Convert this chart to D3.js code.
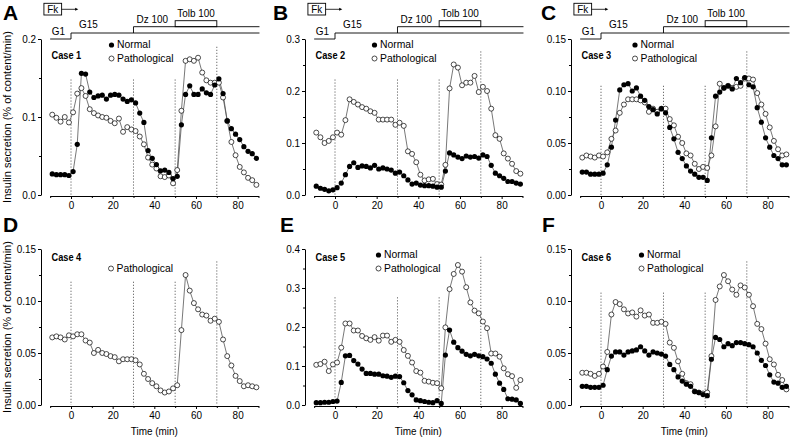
<!DOCTYPE html>
<html>
<head>
<meta charset="utf-8">
<script src="https://cdn.jsdelivr.net/npm/d3@7"></script>
<style>
  body { margin: 0; background: #fff; }
  svg { font-family: "Liberation Sans", Arial, sans-serif; }
</style>
</head>
<body>
<svg id="chart" width="791" height="440"></svg>
<script>
// sampling times (min), one point every 2 min
const times = [-9, -7, -5, -3, -1, 1, 3, 5, 7, 9, 11, 13, 15, 17, 19, 21, 23, 25, 27, 29,
  31, 33, 35, 37, 39, 41, 43, 45, 47, 49, 51, 53, 55, 57, 59, 61, 63, 65, 67, 69,
  71, 73, 75, 77, 79, 81, 83, 85, 87, 89];

const case1Normal = [0.027, 0.026, 0.026, 0.026, 0.025, 0.030, 0.065, 0.156, 0.155, 0.132,
  0.125, 0.127, 0.128, 0.123, 0.128, 0.129, 0.128, 0.123, 0.120, 0.122,
  0.118, 0.105, 0.093, 0.057, 0.047, 0.039, 0.031, 0.032, 0.029, 0.021,
  0.024, 0.090, 0.129, 0.140, 0.129, 0.129, 0.136, 0.131, 0.129, 0.141,
  0.149, 0.130, 0.095, 0.085, 0.078, 0.071, 0.062, 0.056, 0.053, 0.047];
const case1Path = [0.103, 0.099, 0.094, 0.100, 0.093, 0.106, 0.130, 0.137, 0.127, 0.110,
  0.105, 0.102, 0.100, 0.099, 0.095, 0.092, 0.098, 0.081, 0.087, 0.084,
  0.082, 0.075, 0.065, 0.048, 0.039, 0.034, 0.024, 0.023, 0.025, 0.015,
  0.032, 0.108, 0.172, 0.174, 0.172, 0.176, 0.157, 0.147, 0.144, 0.144,
  0.144, 0.125, 0.095, 0.068, 0.051, 0.036, 0.029, 0.022, 0.019, 0.013];

const case2Normal = [0.017, 0.013, 0.011, 0.008, 0.010, 0.014, 0.023, 0.039, 0.055, 0.062,
  0.053, 0.056, 0.055, 0.052, 0.057, 0.050, 0.052, 0.050, 0.048, 0.042,
  0.044, 0.037, 0.029, 0.021, 0.023, 0.019, 0.018, 0.018, 0.017, 0.015,
  0.015, 0.046, 0.081, 0.077, 0.073, 0.070, 0.075, 0.073, 0.074, 0.071,
  0.077, 0.074, 0.057, 0.042, 0.037, 0.032, 0.026, 0.026, 0.023, 0.021];
const case2Path = [0.120, 0.111, 0.100, 0.104, 0.111, 0.120, 0.116, 0.144, 0.184, 0.179,
  0.174, 0.169, 0.166, 0.161, 0.158, 0.145, 0.145, 0.145, 0.145, 0.135,
  0.139, 0.133, 0.084, 0.079, 0.063, 0.039, 0.028, 0.030, 0.031, 0.021,
  0.020, 0.058, 0.205, 0.251, 0.245, 0.211, 0.216, 0.216, 0.229, 0.198,
  0.208, 0.200, 0.166, 0.115, 0.108, 0.080, 0.070, 0.060, 0.046, 0.041];

const case3Normal = [0.022, 0.022, 0.020, 0.020, 0.020, 0.021, 0.029, 0.046, 0.072, 0.101,
  0.106, 0.107, 0.100, 0.103, 0.095, 0.091, 0.085, 0.082, 0.078, 0.083,
  0.079, 0.065, 0.054, 0.041, 0.035, 0.028, 0.023, 0.020, 0.017, 0.017,
  0.014, 0.055, 0.095, 0.099, 0.103, 0.105, 0.102, 0.112, 0.108, 0.113,
  0.106, 0.104, 0.084, 0.070, 0.055, 0.046, 0.038, 0.035, 0.029, 0.029];
const case3Path = [0.036, 0.038, 0.037, 0.036, 0.038, 0.037, 0.041, 0.054, 0.062, 0.079,
  0.087, 0.092, 0.092, 0.092, 0.091, 0.089, 0.080, 0.083, 0.080, 0.083,
  0.083, 0.073, 0.067, 0.056, 0.050, 0.040, 0.038, 0.030, 0.025, 0.027,
  0.026, 0.038, 0.066, 0.107, 0.103, 0.105, 0.103, 0.104, 0.105, 0.112,
  0.112, 0.111, 0.098, 0.087, 0.078, 0.065, 0.052, 0.044, 0.038, 0.039];

const case4Path = [0.065, 0.066, 0.065, 0.063, 0.067, 0.066, 0.068, 0.068, 0.062, 0.060,
  0.050, 0.053, 0.050, 0.049, 0.047, 0.046, 0.042, 0.044, 0.044, 0.044,
  0.043, 0.039, 0.030, 0.025, 0.021, 0.018, 0.014, 0.012, 0.013, 0.016,
  0.019, 0.072, 0.125, 0.110, 0.098, 0.092, 0.087, 0.086, 0.081, 0.083,
  0.080, 0.063, 0.047, 0.038, 0.028, 0.023, 0.018, 0.019, 0.018, 0.017];

const case5Normal = [0.006, 0.006, 0.007, 0.007, 0.009, 0.010, 0.058, 0.126, 0.127, 0.114,
  0.105, 0.092, 0.081, 0.081, 0.079, 0.079, 0.075, 0.074, 0.071, 0.074,
  0.073, 0.057, 0.037, 0.026, 0.013, 0.011, 0.009, 0.007, 0.006, 0.011,
  0.004, 0.128, 0.192, 0.161, 0.147, 0.138, 0.130, 0.126, 0.130, 0.126,
  0.124, 0.118, 0.107, 0.079, 0.056, 0.040, 0.016, 0.015, 0.013, 0.004];
const case5Path = [0.103, 0.105, 0.111, 0.087, 0.104, 0.109, 0.147, 0.209, 0.209, 0.191,
  0.191, 0.177, 0.171, 0.167, 0.174, 0.165, 0.178, 0.178, 0.162, 0.167,
  0.162, 0.141, 0.126, 0.109, 0.087, 0.083, 0.062, 0.060, 0.057, 0.056,
  0.043, 0.199, 0.297, 0.336, 0.359, 0.342, 0.302, 0.263, 0.242, 0.235,
  0.214, 0.197, 0.132, 0.132, 0.124, 0.094, 0.079, 0.074, 0.044, 0.064];

const case6Normal = [0.018, 0.018, 0.017, 0.017, 0.017, 0.019, 0.034, 0.047, 0.051, 0.051,
  0.048, 0.051, 0.052, 0.053, 0.056, 0.052, 0.048, 0.051, 0.050, 0.049,
  0.047, 0.039, 0.034, 0.027, 0.023, 0.020, 0.018, 0.013, 0.012, 0.010,
  0.009, 0.044, 0.065, 0.063, 0.056, 0.059, 0.057, 0.060, 0.060, 0.059,
  0.058, 0.056, 0.050, 0.043, 0.038, 0.029, 0.022, 0.021, 0.017, 0.018];
const case6Path = [0.031, 0.031, 0.030, 0.028, 0.030, 0.037, 0.051, 0.087, 0.099, 0.097,
  0.092, 0.088, 0.089, 0.085, 0.091, 0.086, 0.087, 0.079, 0.079, 0.080,
  0.078, 0.060, 0.055, 0.042, 0.030, 0.021, 0.020, 0.013, 0.012, 0.011,
  0.012, 0.047, 0.101, 0.114, 0.125, 0.119, 0.111, 0.106, 0.115, 0.113,
  0.106, 0.095, 0.078, 0.073, 0.059, 0.044, 0.039, 0.029, 0.024, 0.015];

// axis ticks
const xTicks = [0, 20, 40, 60, 80];
const xMinorTicks = [-10, 10, 30, 50, 70, 90];
const yTicks1 = [0, 0.1, 0.2];
const yTicks2 = [0, 0.1, 0.2, 0.3];
const yTicks15 = [0, 0.05, 0.10, 0.15];
const yTicks4 = [0, 0.1, 0.2, 0.3, 0.4];
const switchTimes = [0, 30, 50, 70];

const panels = [
  { letter: 'A', label: 'Case 1', normal: case1Normal, path: case1Path, yTicks: yTicks1, fmt: '.1f', col: 0, row: 0 },
  { letter: 'B', label: 'Case 2', normal: case2Normal, path: case2Path, yTicks: yTicks2, fmt: '.1f', col: 1, row: 0 },
  { letter: 'C', label: 'Case 3', normal: case3Normal, path: case3Path, yTicks: yTicks15, fmt: '.2f', col: 2, row: 0 },
  { letter: 'D', label: 'Case 4', normal: null, path: case4Path, yTicks: yTicks15, fmt: '.2f', col: 0, row: 1 },
  { letter: 'E', label: 'Case 5', normal: case5Normal, path: case5Path, yTicks: yTicks4, fmt: '.1f', col: 1, row: 1 },
  { letter: 'F', label: 'Case 6', normal: case6Normal, path: case6Path, yTicks: yTicks15, fmt: '.2f', col: 2, row: 1 }
];

// layout
const colX0 = [71, 335, 601];          // pixel of t = 0
const rowTop = [39, 249];
const rowBottom = [195, 405];
const pxPerMin = 2.083;
const letterX = [3, 273, 541, 3, 280, 542];
const legendDx = [40.5, 39.5, 34, 40, 43.5, 40.5];
const dotTop = [0.74, 0.74, 0.70, 0.79, 0.69, 0.72];
const dotTop70 = [0.95, 0.92, 0.92, 0.92, 0.95, 0.92];
const squeezeX = 0.88;   // the original figure is a little narrower than tall

// narrow a text horizontally around its own x anchor
function squeeze(sel) {
  sel.attr('transform', function () {
    const x = +this.getAttribute('x') || 0;
    return `translate(${x * (1 - squeezeX)},0) scale(${squeezeX},1)`;
  });
}

const svg = d3.select('#chart');

panels.forEach((p, i) => {
  const x0 = colX0[p.col];
  const top = rowTop[p.row];
  const bottom = rowBottom[p.row];
  const yMax = p.yTicks[p.yTicks.length - 1];

  const x = d3.scaleLinear().domain([-10, 90]).range([x0 - 10 * pxPerMin, x0 + 90 * pxPerMin]);
  const y = d3.scaleLinear().domain([0, yMax]).range([bottom, top]);

  const g = svg.append('g');

  // dotted markers of solution changes
  switchTimes.forEach(t => {
    const f = t === 70 ? dotTop70[i] : dotTop[i];
    g.append('line')
      .attr('x1', x(t)).attr('x2', x(t))
      .attr('y1', bottom - f * (bottom - top)).attr('y2', bottom)
      .attr('stroke', '#333')
      .attr('stroke-width', 0.9)
      .attr('stroke-dasharray', '1,2');
  });

  // y axis
  const yMinor = d3.pairs(p.yTicks).map(([a, b]) => (a + b) / 2);
  const yAxisG = g.append('g').attr('transform', `translate(${x0 - 30},0)`);
  yAxisG.call(d3.axisLeft(y).tickValues(p.yTicks).tickFormat(d3.format(p.fmt))
    .tickSize(3).tickSizeOuter(0).tickPadding(2));
  yAxisG.append('g').call(d3.axisLeft(y).tickValues(yMinor).tickFormat('').tickSize(2).tickSizeOuter(0))
    .select('.domain').remove();

  // x axis
  const xAxisG = g.append('g').attr('transform', `translate(0,${bottom + 1})`);
  xAxisG.call(d3.axisBottom(x).tickValues(xTicks).tickSize(3).tickSizeOuter(0).tickPadding(2));
  xAxisG.append('g').call(d3.axisBottom(x).tickValues(xMinorTicks).tickFormat('').tickSize(2).tickSizeOuter(0))
    .select('.domain').remove();

  g.selectAll('.tick text').attr('font-size', 11.3).attr('fill', '#000')
    .attr('font-family', '"Liberation Sans", Arial, sans-serif')
    .call(squeeze);
  g.selectAll('.domain, .tick line').attr('stroke', '#000');

  const line = d3.line().x((d, k) => x(times[k])).y(d => y(d));

  g.append('path').datum(p.path)
    .attr('d', line).attr('fill', 'none').attr('stroke', '#555').attr('stroke-width', 0.8);
  if (p.normal) {
    g.append('path').datum(p.normal)
      .attr('d', line).attr('fill', 'none').attr('stroke', '#555').attr('stroke-width', 0.8);
  }
  g.append('g').selectAll('circle').data(p.path).join('circle')
    .attr('cx', (d, k) => x(times[k])).attr('cy', d => y(d)).attr('r', 2.5)
    .attr('fill', '#fff').attr('stroke', '#000').attr('stroke-width', 0.7);
  if (p.normal) {
    g.append('g').selectAll('circle').data(p.normal).join('circle')
      .attr('cx', (d, k) => x(times[k])).attr('cy', d => y(d)).attr('r', 2.6)
      .attr('fill', '#000');
  }

  // case label
  g.append('text')
    .attr('x', x0 - 19.5).attr('y', top + (p.row === 0 ? 17 : 9.5))
    .attr('dominant-baseline', 'middle')
    .attr('font-size', 10.5).attr('font-weight', 'bold')
    .text(p.label)
    .call(squeeze);

  // legend
  const lx = x0 + legendDx[i];
  if (p.normal) {
    g.append('circle').attr('cx', lx).attr('cy', top + 6).attr('r', 2.6).attr('fill', '#000');
    g.append('text').attr('x', lx + 5.5).attr('y', top + 6).attr('dominant-baseline', 'middle')
      .attr('font-size', 11.8).text('Normal').call(squeeze);
  }
  g.append('circle').attr('cx', lx).attr('cy', top + 19.5).attr('r', 2.5)
    .attr('fill', '#fff').attr('stroke', '#000').attr('stroke-width', 0.7);
  g.append('text').attr('x', lx + 5.5).attr('y', top + 19.5).attr('dominant-baseline', 'middle')
    .attr('font-size', 11.8).text('Pathological').call(squeeze);

  // panel letter
  svg.append('text')
    .attr('x', letterX[i]).attr('y', p.row === 0 ? 20 : 232)
    .attr('font-size', 21).attr('font-weight', 'bold')
    .text(p.letter);

  if (p.col === 0) {
    svg.append('text')
      .attr('transform', `translate(8,${(top + bottom) / 2}) rotate(-90)`)
      .attr('text-anchor', 'middle').attr('dominant-baseline', 'middle')
      .attr('font-size', 11)
      .text('Insulin secretion (% of content/min)');
  }
  if (p.row === 1) {
    svg.append('text')
      .attr('x', x(40)).attr('y', 432)
      .attr('text-anchor', 'middle').attr('dominant-baseline', 'middle')
      .attr('font-size', 11.3)
      .text('Time (min)')
      .call(squeeze);
  }
  if (p.row === 0) drawProtocol(g, x, top);
});

function drawProtocol(g, x, top) {
  const right = x(90) + 1;
  const yG15 = top - 6, yDz = top - 12.3, yTolb = top - 18.3;
  g.append('path')
    .attr('d', `M${x(-10)},${top}H${x(0)}V${yG15}H${right}M${x(30)},${yG15}V${yDz}H${right}`)
    .attr('fill', 'none').attr('stroke', '#000').attr('stroke-width', 0.9);
  g.append('rect')
    .attr('x', x(50)).attr('y', yTolb).attr('width', x(70) - x(50)).attr('height', yDz - yTolb)
    .attr('fill', 'none').attr('stroke', '#000').attr('stroke-width', 0.9);

  const lbl = (tx, ty, s, anchor) => g.append('text')
    .attr('x', tx).attr('y', ty).attr('font-size', 11.3)
    .attr('text-anchor', anchor || 'start').text(s).call(squeeze);
  lbl(x(-9.2), top - 3.5, 'G1');
  lbl(x(3.8), top - 10.5, 'G15');
  lbl(x(31.5), top - 16.3, 'Dz 100');
  lbl(x(60), top - 21.7, 'Tolb 100', 'middle');

  // Fk box with arrow
  g.append('rect')
    .attr('x', x(-13)).attr('y', 3.3).attr('width', x(-4.5) - x(-13)).attr('height', 11.7)
    .attr('fill', '#fff').attr('stroke', '#000').attr('stroke-width', 0.9);
  lbl((x(-13) + x(-4.5)) / 2, 13.3, 'Fk', 'middle');
  g.append('line')
    .attr('x1', x(-4.5)).attr('x2', x(2.5)).attr('y1', 9.3).attr('y2', 9.3)
    .attr('stroke', '#000').attr('stroke-width', 0.8);
  g.append('path')
    .attr('d', `M${x(3.5)},9.3L${x(2)},7.8L${x(2)},10.8Z`).attr('fill', '#000');
}
</script>
</body>
</html>
